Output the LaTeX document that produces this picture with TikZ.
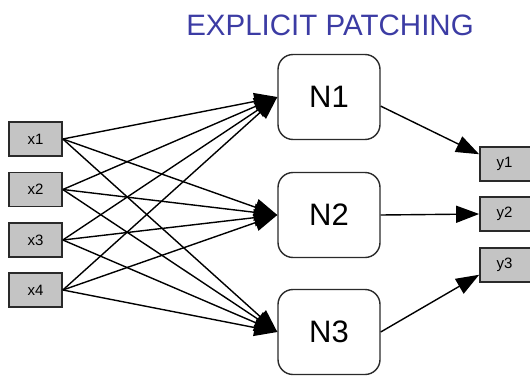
\documentclass[tikz,border=0pt]{standalone}
\usepackage{fontspec}
\setmainfont{Liberation Sans}
\usetikzlibrary{arrows.meta}
\definecolor{titleblue}{HTML}{3C3CA4}
\definecolor{boxgray}{HTML}{C4C4C4}
\definecolor{edgedark}{HTML}{2A2A2A}
\begin{document}
\begin{tikzpicture}[x=1pt,y=-1pt,
  inbox/.style={draw=edgedark,line width=1.7pt,fill=boxgray,minimum width=53pt,minimum height=34pt,inner sep=0pt,font=\fontsize{15}{15}\selectfont},
  outbox/.style={draw=edgedark,line width=1.7pt,fill=boxgray,minimum width=52pt,minimum height=34pt,inner sep=0pt,font=\fontsize{15}{15}\selectfont},
  nbox/.style={draw=edgedark,line width=1.4pt,fill=white,rounded corners=15pt,minimum width=102pt,minimum height=85pt,inner sep=0pt,font=\fontsize{31}{31}\selectfont},
  link/.style={line width=1.4pt,black,-{Triangle[length=23pt,width=17pt]}}]
\useasboundingbox (0,0) rectangle (530,375);
\node[text=titleblue,font=\fontsize{29.5}{30}\selectfont,anchor=base] (title) at (330,35) {EXPLICIT PATCHING};
\node[inbox] (x1) at (35.5,139) {x1};
\node[inbox] (x2) at (35.5,189.5) {x2};
\node[inbox] (x3) at (35.5,240) {x3};
\node[inbox] (x4) at (35.5,290) {x4};
\node[nbox] (N1) at (329,97) {N1};
\node[nbox] (N2) at (329,215) {N2};
\node[nbox] (N3) at (329,332) {N3};
\node[outbox] (y1) at (506,164) {\hspace*{-3pt}y1};
\node[outbox] (y2) at (506,214) {\hspace*{-3pt}y2};
\node[outbox] (y3) at (506,265) {\hspace*{-3pt}y3};
\foreach \i in {1,2,3,4}{
  \foreach \j in {1,2,3}{
    \draw[link] (x\i.east) -- (N\j.west);
  }
}
\draw[link] (N1.-10) -- (y1.160);
\draw[link] (N2.east) -- (y2.west);
\draw[link] (N3.east) -- (y3.200);
\end{tikzpicture}
\end{document}
